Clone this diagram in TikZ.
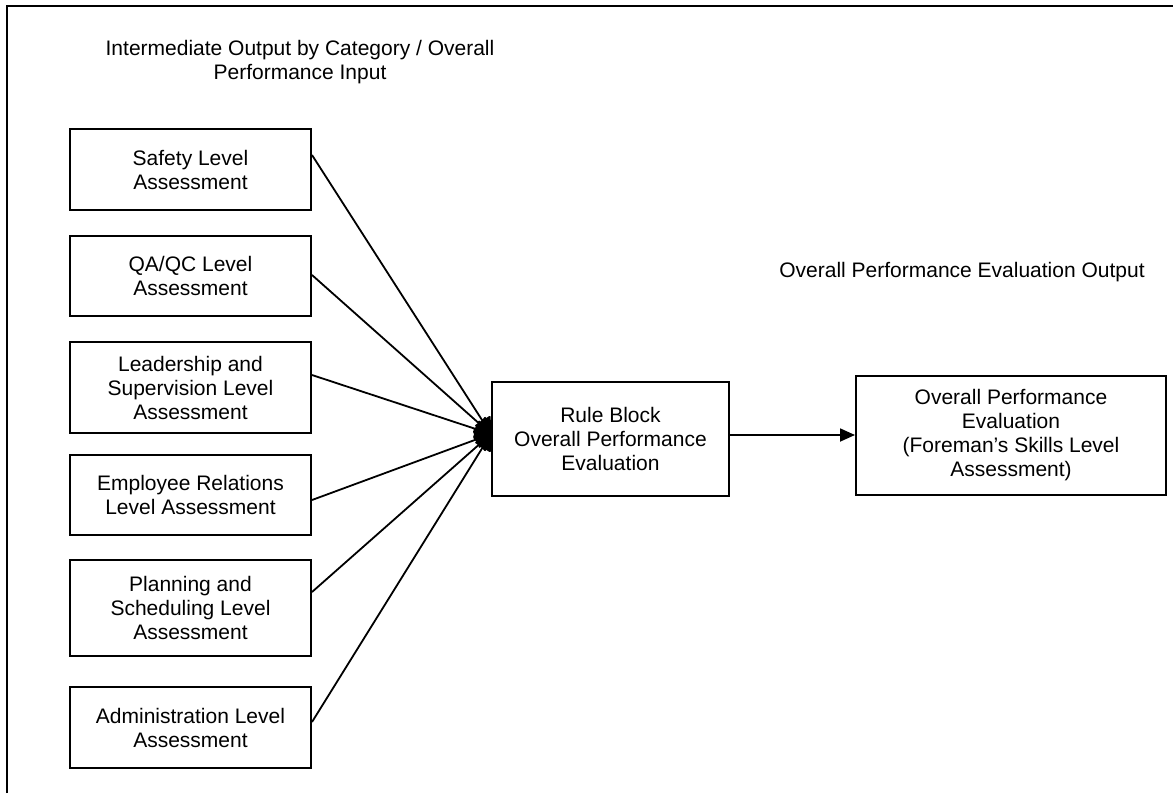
\documentclass[tikz,border=0pt]{standalone}
\usepackage{fontspec}
\setmainfont{Liberation Sans}
\usetikzlibrary{arrows.meta}

\begin{document}
\begin{tikzpicture}[x=1pt,y=-1pt,
  font=\fontsize{21pt}{24pt}\selectfont,
  inbox/.style={draw, line width=2pt, rectangle, inner sep=0pt,
    minimum width=241pt, align=center},
  bigbox/.style={draw, line width=2pt, rectangle, inner sep=0pt, align=center},
  feed/.style={line width=1.8pt, -{Triangle[length=17pt,width=19pt,round]}},
  flow/.style={line width=1.8pt, -{Triangle[length=15pt,width=13pt]}},
  label/.style={inner sep=0pt, align=center}]

  \useasboundingbox (0,0) rectangle (1173,793);

  % frame
  \draw[line width=2pt] (7,793) -- (7,6) -- (1173,6);

  % headings
  \node[label, anchor=base] (hin) at (300,79)
    {Intermediate Output by Category / Overall\\Performance Input};
  \node[label, anchor=base] (hout) at (962,277)
    {Overall Performance Evaluation Output};

  % category assessments
  \node[inbox, minimum height=81pt] (s1) at (190.5,169.5) {Safety Level\\Assessment};
  \node[inbox, minimum height=80pt] (s2) at (190.5,276) {QA/QC Level\\Assessment};
  \node[inbox, minimum height=91pt] (s3) at (190.5,387.5) {Leadership and\\Supervision Level\\Assessment};
  \node[inbox, minimum height=80pt] (s4) at (190.5,495) {Employee Relations\\Level Assessment};
  \node[inbox, minimum height=96pt] (s5) at (190.5,608) {Planning and\\Scheduling Level\\Assessment};
  \node[inbox, minimum height=81pt] (s6) at (190.5,727.5) {Administration Level\\Assessment};

  % rule block and result
  \node[bigbox, minimum width=237pt, minimum height=114pt] (rule) at (610.5,439)
    {Rule Block\\Overall Performance\\Evaluation};
  \node[bigbox, minimum width=310pt, minimum height=119pt] (out) at (1011,435.5)
    {Overall Performance\\Evaluation\\(Foreman's Skills Level\\Assessment)};

  % inputs into the rule block
  \coordinate (join) at ([yshift=5pt]rule.west);
  \draw[feed] ([yshift=14.5pt]s1.east) -- (join);
  \draw[feed] ([yshift=1pt]s2.east) -- (join);
  \draw[feed] ([yshift=12.5pt]s3.east) -- (join);
  \draw[feed] ([yshift=-5pt]s4.east) -- (join);
  \draw[feed] ([yshift=16pt]s5.east) -- (join);
  \draw[feed] ([yshift=5.5pt]s6.east) -- (join);

  % output
  \draw[flow] ([yshift=4pt]rule.east) -- ([yshift=0.5pt]out.west);
\end{tikzpicture}
\end{document}
